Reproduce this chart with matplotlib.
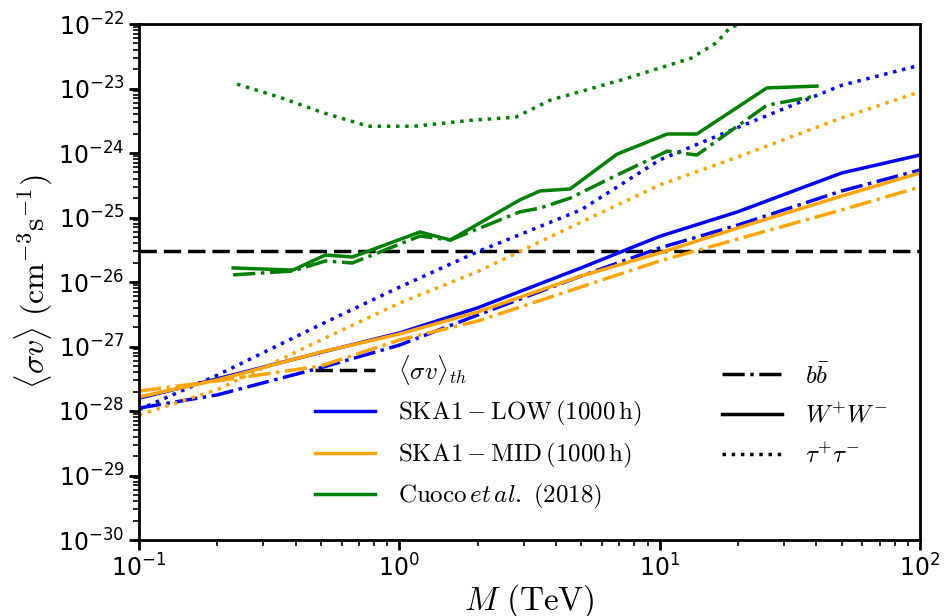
import numpy as np
import matplotlib
matplotlib.use("Agg")
import matplotlib.pyplot as plt
from matplotlib.lines import Line2D
from matplotlib.ticker import LogLocator

plt.rcParams['mathtext.fontset'] = 'cm'
plt.rcParams['font.family'] = ['DejaVu Sans']

# ---------------- data ----------------
mass = [0.1, 0.2, 0.5, 1, 2, 5, 10, 20, 50, 100]

low_ww = [1.58e-28, 3.16e-28, 8.1e-28, 1.62e-27, 3.98e-27, 1.66e-26, 5.1e-26, 1.23e-25, 4.9e-25, 9.3e-25]
low_bb = [1.11e-28, 1.78e-28, 4.7e-28, 1.05e-27, 3.08e-27, 1.24e-26, 3.37e-26, 7.66e-26, 2.58e-25, 5.45e-25]
low_tt = [1.05e-28, 3.6e-28, 2.2e-27, 8.3e-27, 2.95e-26, 1.32e-25, 7.8e-25, 2.5e-24, 1.12e-23, 2.3e-23]

mid_ww = [1.65e-28, 3.03e-28, 8.2e-28, 1.56e-27, 3.43e-27, 1.24e-26, 2.82e-26, 6.9e-26, 2.15e-25, 4.9e-25]
mid_bb = [2.04e-28, 2.92e-28, 4.99e-28, 1.26e-27, 2.48e-27, 8.4e-27, 2.12e-26, 4.65e-26, 1.31e-25, 2.97e-25]
mid_tt = [8.7e-29, 2.14e-28, 1.26e-27, 4.7e-27, 1.45e-26, 8.5e-26, 3.2e-25, 8.7e-25, 3.5e-24, 8.9e-24]

cuoco_mass = [0.23, 0.39, 0.52, 0.66, 1.2, 1.57, 2.9, 3.47, 4.53, 6.86, 10.7, 13.9, 25.8, 40.2]
cuoco_ww = [1.65e-26, 1.53e-26, 2.62e-26, 2.44e-26, 5.96e-26, 4.48e-26, 1.87e-25, 2.58e-25,
            2.77e-25, 9.6e-25, 1.97e-24, 1.97e-24, 1.02e-23, 1.09e-23]
cuoco_bb = [1.29e-26, 1.48e-26, 2.12e-26, 1.97e-26, 5.16e-26, 4.48e-26, 1.22e-25, 1.40e-25,
            2.0e-25, 4.56e-25, 1.07e-24, 9.3e-25, 5.5e-24, 7.7e-24]

cuoco_tt_mass = [0.238, 0.351, 0.51, 0.76, 1.14, 1.87, 2.8, 3.8, 7.1, 13.2, 16.5, 18.7, 30]
cuoco_tt = [1.17e-23, 7.2e-24, 4.2e-24, 2.6e-24, 2.6e-24, 3.2e-24, 3.6e-24, 6.6e-24,
            1.35e-23, 2.95e-23, 5.1e-23, 8.9e-23, 1.6e-22]

sigma_v_th = 3e-26

# ---------------- plot ----------------
fig = plt.figure(figsize=(9.45, 6.16), dpi=100)
ax = fig.add_axes([139/945, 1-540/616, (920-139)/945, (540-24)/616])

lw = 2.5
ax.axhline(sigma_v_th, color='black', lw=lw, dashes=(5, 2))

ax.plot(mass, low_ww, color='blue', lw=lw, ls='-')
ax.plot(mass, low_bb, color='blue', lw=lw, ls='-.')
ax.plot(mass, low_tt, color='blue', lw=lw, ls=':')

ax.plot(mass, mid_ww, color='orange', lw=lw, ls='-')
ax.plot(mass, mid_bb, color='orange', lw=lw, ls='-.')
ax.plot(mass, mid_tt, color='orange', lw=lw, ls=':')

ax.plot(cuoco_mass, cuoco_ww, color='green', lw=lw, ls='-')
ax.plot(cuoco_mass, cuoco_bb, color='green', lw=lw, ls='-.')
ax.plot(cuoco_tt_mass, cuoco_tt, color='green', lw=lw, ls=':')

ax.set_xscale('log')
ax.set_yscale('log')
ax.set_xlim(0.1, 100)
ax.set_ylim(1e-30, 1e-22)

ax.yaxis.set_major_locator(LogLocator(base=10, numticks=20))
ax.yaxis.set_minor_locator(LogLocator(base=10, subs=np.arange(2, 10), numticks=20))

for s in ax.spines.values():
    s.set_linewidth(2)
ax.tick_params(which='major', direction='out', length=7, width=2, labelsize=17)
ax.tick_params(which='minor', direction='out', length=4, width=1.2)
ax.tick_params(top=False, right=False)

ax.set_xlabel(r'$M\ \mathrm{(TeV)}$', fontsize=24, labelpad=0)
ax.set_ylabel(r'$\langle\sigma v\rangle\ (\mathrm{cm^{-3}s^{-1}})$', fontsize=23, labelpad=2)

h1 = [Line2D([], [], color='black', lw=lw, dashes=(5, 2)),
      Line2D([], [], color='blue', lw=lw),
      Line2D([], [], color='orange', lw=lw),
      Line2D([], [], color='green', lw=lw)]
l1 = [r'$\langle\sigma v\rangle_{th}$',
      r'$\mathrm{SKA1-LOW\,(1000\,h)}$',
      r'$\mathrm{SKA1-MID\,(1000\,h)}$',
      r'$\mathrm{Cuoco}\,\mathit{et\,al.}\ \mathrm{(2018)}$']
leg1 = ax.legend(h1, l1, loc='upper left', bbox_to_anchor=(0.2254, 0.363),
                 frameon=False, fontsize=18, handlelength=2.4, handletextpad=0.9,
                 labelspacing=0.5, borderpad=0, borderaxespad=0)
ax.add_artist(leg1)

h2 = [Line2D([], [], color='black', lw=lw, ls='-.'),
      Line2D([], [], color='black', lw=lw, ls='-'),
      Line2D([], [], color='black', lw=lw, ls=':')]
l2 = [r'$b\bar{b}$', r'$W^{+}W^{-}$', r'$\tau^{+}\tau^{-}$']
ax.legend(h2, l2, loc='upper left', bbox_to_anchor=(0.7465, 0.343),
          frameon=False, fontsize=18, handlelength=2.4, handletextpad=0.9,
          labelspacing=0.62, borderpad=0, borderaxespad=0)

fig.savefig('out.png', dpi=100)
